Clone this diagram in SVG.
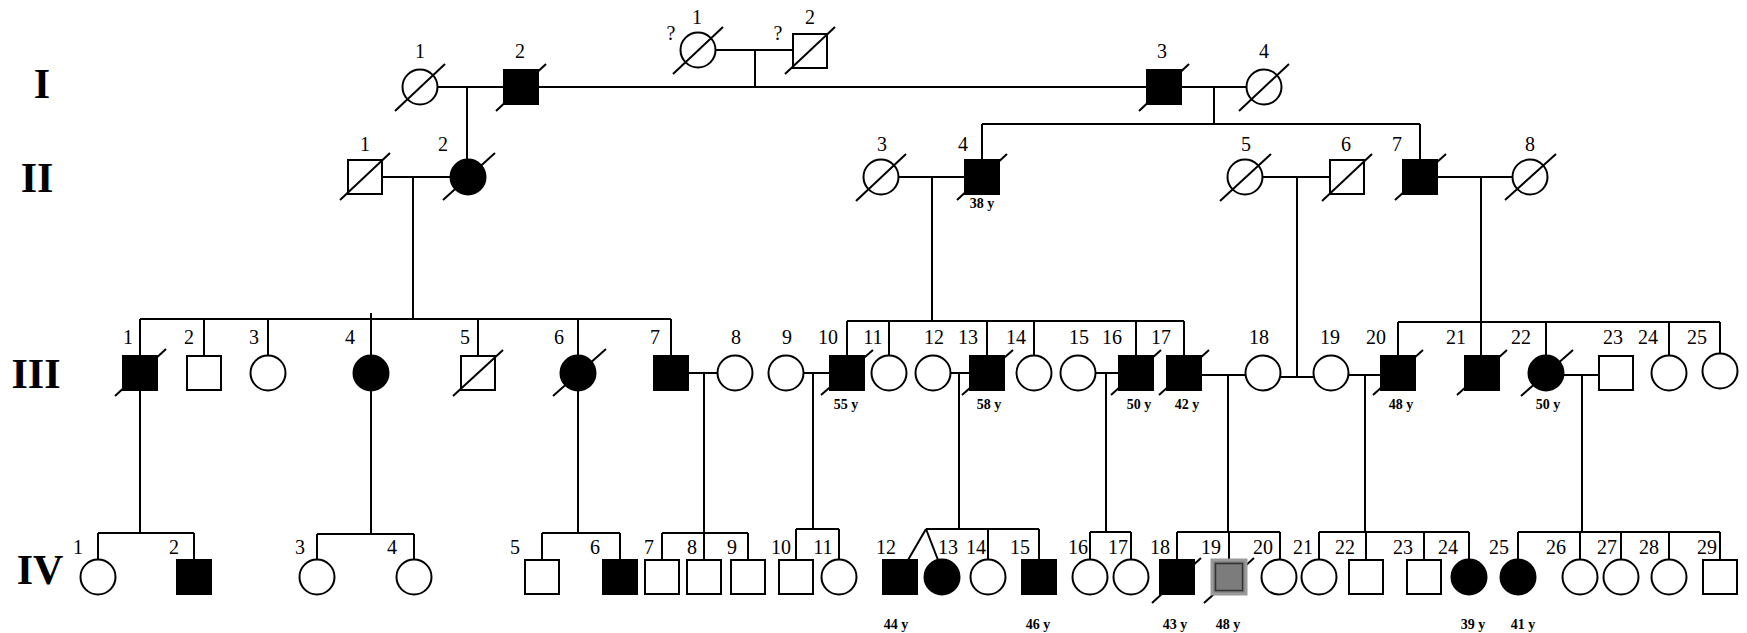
<svg xmlns="http://www.w3.org/2000/svg" width="1747" height="633" viewBox="0 0 1747 633">
<style>
.ln{stroke:#000;stroke-width:2;fill:none}
.o{fill:#fff;stroke:#000;stroke-width:2}
.a{fill:#000;stroke:#000;stroke-width:2}
.g19{fill:#7c7c7c;stroke:#9a9a9a;stroke-width:3}
.g19i{fill:none;stroke:#333;stroke-width:1.5}
.sl{stroke:#000;stroke-width:2}
text{font-family:"Liberation Serif","Times New Roman",serif;text-anchor:middle;fill:#000}
.n{font-size:20px}
.age{font-size:14px;font-weight:bold}
.gen{font-size:42px;font-weight:bold}
</style>
<rect width="1747" height="633" fill="#fff"/>
<g id="generation-labels">
<text class="gen" x="42" y="98">I</text>
<text class="gen" x="37" y="192">II</text>
<text class="gen" x="36" y="388">III</text>
<text class="gen" x="40" y="584">IV</text>
</g>
<g id="connectors" class="ln">
<path d="M438 87H504M467 87V159M538 87H1147M715 50H793M755 50V87M1181 87H1246M1214 87V124M982 124H1420M982 124V160M1420 124V160"/>
<path d="M382 177H451M413 177V319M898 177H965M932 177V321M1262 177H1330M1297 177V377M1437 177H1513M1481 177V356"/>
<path d="M140 319H671M140 319V356M204 319V356M268 319V355M371 313V355M478 319V356M578 319V355M671 319V356"/>
<path d="M847 321H1184M847 321V356M889 321V355M987 321V356M1034 321V355M1136 321V356M1184 321V356"/>
<path d="M1398 322H1720M1398 322V356M1546 322V355M1669 322V355M1720 322V353"/>
<path d="M688 373H718M704 373V560M803 373H830M813 373V529M950 373H970M959 373V529M1095 373H1119M1106 373V532M1201 375H1246M1228 375V532M1280 377H1314M1348 375H1382M1365 375V532M1563 375H1599M1582 375V532"/>
<path d="M140 390V533M371 390V534M578 390V533"/>
<path d="M98 533H194M98 533V559M194 533V560M317 534H414M317 534V559M414 534V559M542 533H620M542 533V560M620 533V560"/>
<path d="M662 533H748M662 533V560M748 533V560M796 529H839M796 529V560M839 529V559"/>
<path d="M926 529H1039M926 529L908 560M926 529L938 560M988 529V559M1039 529V560M1090 532H1131M1090 532V559M1131 532V559"/>
<path d="M1177 532H1280M1177 532V560M1229 532V562M1280 532V559M1319 532H1469M1319 532V559M1366 532V560M1424 532V560M1469 532V559"/>
<path d="M1518 532H1720M1518 532V559M1580 532V559M1621 532V559M1669 532V559M1720 532V560"/>
</g>
<!-- Generation I -->
<g id="I-1"><circle class="o" cx="420" cy="87" r="17.5"/><line class="sl" x1="395" y1="111" x2="445" y2="64"/><text class="n" x="420" y="58">1</text></g>
<g id="I-2"><rect class="a" x="504" y="70" width="34" height="34"/><line class="sl" x1="496" y1="111" x2="546" y2="64"/><text class="n" x="520" y="58">2</text></g>
<g id="I-top1"><circle class="o" cx="698" cy="50" r="17.5"/><line class="sl" x1="673" y1="74" x2="723" y2="27"/><text class="n" x="697" y="24">1</text><text class="n" x="671" y="40">?</text></g>
<g id="I-top2"><rect class="o" x="793" y="34" width="34" height="34"/><line class="sl" x1="785" y1="74" x2="835" y2="27"/><text class="n" x="810" y="24">2</text><text class="n" x="778" y="40">?</text></g>
<g id="I-3"><rect class="a" x="1147" y="70" width="34" height="34"/><line class="sl" x1="1139" y1="111" x2="1189" y2="64"/><text class="n" x="1162" y="58">3</text></g>
<g id="I-4"><circle class="o" cx="1264" cy="87" r="17.5"/><line class="sl" x1="1239" y1="111" x2="1289" y2="64"/><text class="n" x="1264" y="58">4</text></g>
<!-- Generation II -->
<g id="II-1"><rect class="o" x="348" y="160" width="34" height="34"/><line class="sl" x1="340" y1="200" x2="390" y2="153"/><text class="n" x="365" y="151">1</text></g>
<g id="II-2"><circle class="a" cx="468" cy="177" r="17.5"/><line class="sl" x1="443" y1="200" x2="495" y2="153"/><text class="n" x="443" y="151">2</text></g>
<g id="II-3"><circle class="o" cx="881" cy="177" r="17.5"/><line class="sl" x1="856" y1="201" x2="906" y2="154"/><text class="n" x="882" y="151">3</text></g>
<g id="II-4"><rect class="a" x="965" y="160" width="34" height="34"/><line class="sl" x1="957" y1="200" x2="1007" y2="154"/><text class="n" x="963" y="151">4</text><text class="age" x="982" y="208">38 y</text></g>
<g id="II-5"><circle class="o" cx="1245" cy="177" r="17.5"/><line class="sl" x1="1220" y1="201" x2="1271" y2="154"/><text class="n" x="1246" y="151">5</text></g>
<g id="II-6"><rect class="o" x="1330" y="160" width="34" height="34"/><line class="sl" x1="1322" y1="201" x2="1372" y2="154"/><text class="n" x="1346" y="151">6</text></g>
<g id="II-7"><rect class="a" x="1403" y="160" width="34" height="34"/><line class="sl" x1="1395" y1="200" x2="1446" y2="154"/><text class="n" x="1397" y="151">7</text></g>
<g id="II-8"><circle class="o" cx="1530" cy="177" r="17.5"/><line class="sl" x1="1505" y1="200" x2="1556" y2="154"/><text class="n" x="1530" y="151">8</text></g>
<!-- Generation III -->
<g id="III-1"><rect class="a" x="123" y="356" width="34" height="34"/><line class="sl" x1="115" y1="396" x2="166" y2="349"/><text class="n" x="128" y="344">1</text></g>
<g id="III-2"><rect class="o" x="187" y="356" width="34" height="34"/><text class="n" x="189" y="344">2</text></g>
<g id="III-3"><circle class="o" cx="268" cy="373" r="17.5"/><text class="n" x="254" y="344">3</text></g>
<g id="III-4"><circle class="a" cx="371" cy="373" r="17.5"/><text class="n" x="350" y="344">4</text></g>
<g id="III-5"><rect class="o" x="461" y="356" width="34" height="34"/><line class="sl" x1="453" y1="396" x2="503" y2="350"/><text class="n" x="465" y="344">5</text></g>
<g id="III-6"><circle class="a" cx="578" cy="373" r="17.5"/><line class="sl" x1="553" y1="396" x2="606" y2="349"/><text class="n" x="559" y="344">6</text></g>
<g id="III-7"><rect class="a" x="654" y="356" width="34" height="34"/><text class="n" x="655" y="344">7</text></g>
<g id="III-8"><circle class="o" cx="735" cy="373" r="17.5"/><text class="n" x="736" y="344">8</text></g>
<g id="III-9"><circle class="o" cx="786" cy="373" r="17.5"/><text class="n" x="787" y="344">9</text></g>
<g id="III-10"><rect class="a" x="830" y="356" width="34" height="34"/><line class="sl" x1="821" y1="395" x2="873" y2="350"/><text class="n" x="828" y="344">10</text><text class="age" x="846" y="409">55 y</text></g>
<g id="III-11"><circle class="o" cx="889" cy="373" r="17.5"/><text class="n" x="873" y="344">11</text></g>
<g id="III-12"><circle class="o" cx="933" cy="373" r="17.5"/><text class="n" x="934" y="344">12</text></g>
<g id="III-13"><rect class="a" x="970" y="356" width="34" height="34"/><line class="sl" x1="962" y1="395" x2="1013" y2="350"/><text class="n" x="968" y="344">13</text><text class="age" x="989" y="409">58 y</text></g>
<g id="III-14"><circle class="o" cx="1034" cy="373" r="17.5"/><text class="n" x="1016" y="344">14</text></g>
<g id="III-15"><circle class="o" cx="1078" cy="373" r="17.5"/><text class="n" x="1079" y="344">15</text></g>
<g id="III-16"><rect class="a" x="1119" y="356" width="34" height="34"/><line class="sl" x1="1111" y1="395" x2="1161" y2="350"/><text class="n" x="1112" y="344">16</text><text class="age" x="1139" y="409">50 y</text></g>
<g id="III-17"><rect class="a" x="1167" y="356" width="34" height="34"/><line class="sl" x1="1159" y1="395" x2="1209" y2="350"/><text class="n" x="1161" y="344">17</text><text class="age" x="1187" y="409">42 y</text></g>
<g id="III-18"><circle class="o" cx="1263" cy="373" r="17.5"/><text class="n" x="1259" y="344">18</text></g>
<g id="III-19"><circle class="o" cx="1331" cy="373" r="17.5"/><text class="n" x="1330" y="344">19</text></g>
<g id="III-20"><rect class="a" x="1381" y="356" width="34" height="34"/><line class="sl" x1="1373" y1="395" x2="1423" y2="350"/><text class="n" x="1376" y="344">20</text><text class="age" x="1401" y="409">48 y</text></g>
<g id="III-21"><rect class="a" x="1465" y="356" width="34" height="34"/><line class="sl" x1="1457" y1="395" x2="1507" y2="350"/><text class="n" x="1456" y="344">21</text></g>
<g id="III-22"><circle class="a" cx="1546" cy="373" r="17.5"/><line class="sl" x1="1521" y1="396" x2="1573" y2="350"/><text class="n" x="1521" y="344">22</text><text class="age" x="1548" y="409">50 y</text></g>
<g id="III-23"><rect class="o" x="1599" y="356" width="34" height="34"/><text class="n" x="1613" y="344">23</text></g>
<g id="III-24"><circle class="o" cx="1669" cy="373" r="17.5"/><text class="n" x="1648" y="344">24</text></g>
<g id="III-25"><circle class="o" cx="1720" cy="371" r="17.5"/><text class="n" x="1697" y="344">25</text></g>
<!-- Generation IV -->
<g id="IV-1"><circle class="o" cx="98" cy="577" r="17.5"/><text class="n" x="78" y="554">1</text></g>
<g id="IV-2"><rect class="a" x="177" y="560" width="34" height="34"/><text class="n" x="174" y="554">2</text></g>
<g id="IV-3"><circle class="o" cx="317" cy="577" r="17.5"/><text class="n" x="300" y="554">3</text></g>
<g id="IV-4"><circle class="o" cx="414" cy="577" r="17.5"/><text class="n" x="392" y="554">4</text></g>
<g id="IV-5"><rect class="o" x="525" y="560" width="34" height="34"/><text class="n" x="515" y="554">5</text></g>
<g id="IV-6"><rect class="a" x="603" y="560" width="34" height="34"/><text class="n" x="595" y="554">6</text></g>
<g id="IV-7"><rect class="o" x="645" y="560" width="34" height="34"/><text class="n" x="649" y="554">7</text></g>
<g id="IV-8"><rect class="o" x="687" y="560" width="34" height="34"/><text class="n" x="692" y="554">8</text></g>
<g id="IV-9"><rect class="o" x="731" y="560" width="34" height="34"/><text class="n" x="732" y="554">9</text></g>
<g id="IV-10"><rect class="o" x="779" y="560" width="34" height="34"/><text class="n" x="781" y="554">10</text></g>
<g id="IV-11"><circle class="o" cx="839" cy="577" r="17.5"/><text class="n" x="823" y="554">11</text></g>
<g id="IV-12"><rect class="a" x="883" y="560" width="34" height="34"/><text class="n" x="886" y="554">12</text><text class="age" x="896" y="629">44 y</text></g>
<g id="IV-13"><circle class="a" cx="942" cy="577" r="17.5"/><text class="n" x="948" y="554">13</text></g>
<g id="IV-14"><circle class="o" cx="988" cy="577" r="17.5"/><text class="n" x="976" y="554">14</text></g>
<g id="IV-15"><rect class="a" x="1022" y="560" width="34" height="34"/><text class="n" x="1020" y="554">15</text><text class="age" x="1038" y="629">46 y</text></g>
<g id="IV-16"><circle class="o" cx="1090" cy="577" r="17.5"/><text class="n" x="1078" y="554">16</text></g>
<g id="IV-17"><circle class="o" cx="1131" cy="577" r="17.5"/><text class="n" x="1118" y="554">17</text></g>
<g id="IV-18"><rect class="a" x="1160" y="560" width="34" height="34"/><line class="sl" x1="1152" y1="603" x2="1201" y2="558"/><text class="n" x="1160" y="554">18</text><text class="age" x="1175" y="629">43 y</text></g>
<g id="IV-19"><line class="sl" x1="1204" y1="603" x2="1254" y2="558"/><rect class="g19" x="1212" y="560" width="34" height="34"/><rect class="g19i" x="1215.5" y="563.5" width="27" height="27"/><text class="n" x="1211" y="554">19</text><text class="age" x="1228" y="629">48 y</text></g>
<g id="IV-20"><circle class="o" cx="1279" cy="577" r="17.5"/><text class="n" x="1263" y="554">20</text></g>
<g id="IV-21"><circle class="o" cx="1319" cy="577" r="17.5"/><text class="n" x="1303" y="554">21</text></g>
<g id="IV-22"><rect class="o" x="1349" y="560" width="34" height="34"/><text class="n" x="1345" y="554">22</text></g>
<g id="IV-23"><rect class="o" x="1407" y="560" width="34" height="34"/><text class="n" x="1403" y="554">23</text></g>
<g id="IV-24"><circle class="a" cx="1469" cy="577" r="17.5"/><text class="n" x="1448" y="554">24</text><text class="age" x="1473" y="629">39 y</text></g>
<g id="IV-25"><circle class="a" cx="1518" cy="577" r="17.5"/><text class="n" x="1499" y="554">25</text><text class="age" x="1523" y="629">41 y</text></g>
<g id="IV-26"><circle class="o" cx="1580" cy="577" r="17.5"/><text class="n" x="1556" y="554">26</text></g>
<g id="IV-27"><circle class="o" cx="1621" cy="577" r="17.5"/><text class="n" x="1607" y="554">27</text></g>
<g id="IV-28"><circle class="o" cx="1669" cy="577" r="17.5"/><text class="n" x="1649" y="554">28</text></g>
<g id="IV-29"><rect class="o" x="1703" y="560" width="34" height="34"/><text class="n" x="1707" y="554">29</text></g>
</svg>
